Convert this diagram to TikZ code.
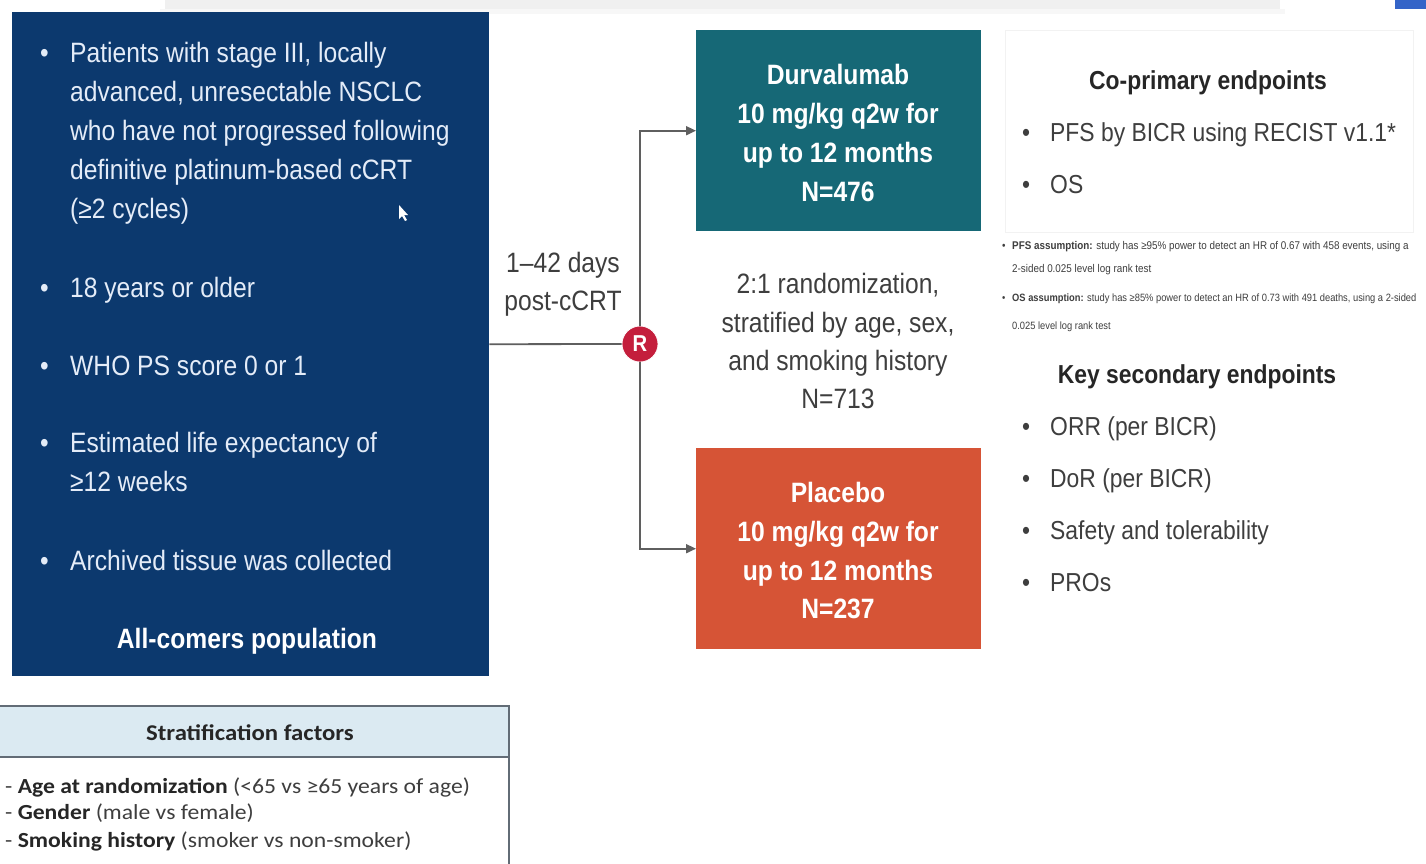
\documentclass[tikz,border=0pt]{standalone}
\usepackage{fontspec}
\setmainfont{Liberation Sans}[FakeStretch=0.88]
\newfontfamily\calfont{Carlito}[FakeStretch=1.1]
\usetikzlibrary{arrows.meta}
\definecolor{navy}{RGB}{12,57,110}
\definecolor{tealbox}{RGB}{22,104,118}
\definecolor{orangebox}{RGB}{214,84,54}
\definecolor{rred}{RGB}{196,30,60}
\definecolor{navytext}{RGB}{228,236,248}
\definecolor{bodytext}{RGB}{62,62,62}
\definecolor{titletext}{RGB}{38,38,38}
\definecolor{linegray}{RGB}{95,95,95}
\definecolor{hdrblue}{RGB}{219,234,242}
\definecolor{tblborder}{RGB}{98,108,118}
\definecolor{topblue}{RGB}{52,100,200}
\begin{document}
\begin{tikzpicture}[x=1pt,y=-1pt,
  lf/.style={inner sep=0, anchor=base west, font=\fontsize{28}{39}\selectfont},
  wl/.style={lf, text=navytext},
  cl/.style={inner sep=0, anchor=base, font=\fontsize{28}{39}\selectfont, text=bodytext},
  bl/.style={inner sep=0, anchor=base, font=\fontsize{28}{39}\selectfont\bfseries, text=white},
  rl/.style={inner sep=0, anchor=base west, font=\fontsize{26}{36}\selectfont, text=bodytext},
  rt/.style={inner sep=0, anchor=base, font=\fontsize{26}{36}\selectfont\bfseries, text=titletext},
  tl/.style={inner sep=0, anchor=base west, font=\fontsize{11.2}{12}\selectfont, text=bodytext},
  tls/.style={tl, font=\fontsize{10.6}{12}\selectfont},
  sl/.style={inner sep=0, anchor=base west, font=\calfont\fontsize{21.5}{24}\selectfont, text=bodytext},
  armbox/.style={inner sep=0, anchor=north west, minimum width=285, minimum height=201},
  conn/.style={draw=linegray, line width=1.8pt},
  arr/.style={conn, -{Triangle[length=10pt,width=9pt]}}
]
\useasboundingbox (0,0) rectangle (1426,863);
\fill[white] (0,0) rectangle (1426,863);
% top remnants
\fill[gray!12] (165,0) rectangle (1280,9);
\fill[gray!6] (160,9) rectangle (1285,14);
\fill[topblue] (1395,0) rectangle (1426,9);

% eligibility box
\node[fill=navy, inner sep=0, anchor=north west, minimum width=477, minimum height=664] (elig) at (12,12) {};
\node[wl] (b1) at (40,62) {•};
\node[wl] (e1) at (70,62) {Patients with stage III, locally};
\node[wl] (e2) at (70,101) {advanced, unresectable NSCLC};
\node[wl] (e3) at (70,140) {who have not progressed following};
\node[wl] (e4) at (70,179) {definitive platinum-based cCRT};
\node[wl] (e5) at (70,218) {(≥2 cycles)};
\node[wl] (b2) at (40,297) {•};
\node[wl] (e6) at (70,297) {18 years or older};
\node[wl] (b3) at (40,375) {•};
\node[wl] (e7) at (70,375) {WHO PS score 0 or 1};
\node[wl] (b4) at (40,452) {•};
\node[wl] (e8) at (70,452) {Estimated life expectancy of};
\node[wl] (e9) at (70,491) {≥12 weeks};
\node[wl] (b5) at (40,570) {•};
\node[wl] (e10) at (70,570) {Archived tissue was collected};
\node[bl] (allc) at (247,648) {All-comers population};
% cursor
\fill[white] (399,205) -- (399,219) -- (402,216) -- (405,221) -- (407,220) -- (404,215) -- (408,215) -- cycle;

% arms
\node[armbox, fill=tealbox] (durva) at (696,30) {};
\node[bl] (d1) at (838,84) {Durvalumab};
\node[bl] (d2) at (838,123) {10 mg/kg q2w for};
\node[bl] (d3) at (838,162) {up to 12 months};
\node[bl] (d4) at (838,201) {N=476};

\node[armbox, fill=orangebox] (plac) at (696,448) {};
\node[bl] (p1) at (838,502) {Placebo};
\node[bl] (p2) at (838,541) {10 mg/kg q2w for};
\node[bl] (p3) at (838,580) {up to 12 months};
\node[bl] (p4) at (838,618) {N=237};

% randomisation
\node[circle, fill=rred, draw=white, line width=0.8pt, minimum size=36, inner sep=0,
      font=\fontsize{23}{23}\selectfont\bfseries, text=white] (R) at (640,344) {R};
\draw[conn] (elig.east) -- (R.west);
\draw[arr] (R.north) |- (durva.west);
\draw[arr] (R.south) |- (plac.west);

\node[cl] (t1) at (563,272) {1–42 days};
\node[cl] (t2) at (563,310) {post-cCRT};

\node[cl] (r1) at (838,293) {2:1 randomization,};
\node[cl] (r2) at (838,332) {stratified by age, sex,};
\node[cl] (r3) at (838,370) {and smoking history};
\node[cl] (r4) at (838,408) {N=713};

% endpoints
\node[draw=gray!10, line width=1pt, fill=white, inner sep=0, anchor=north west,
      minimum width=408, minimum height=202] (cop) at (1005,30) {};
\node[rt] (cpt) at (1208,89) {Co-primary endpoints};
\node[rl] (cb1) at (1022,141) {•};
\node[rl] (c1) at (1050,141) {PFS by BICR using RECIST v1.1*};
\node[rl] (cb2) at (1022,193) {•};
\node[rl] (c2) at (1050,193) {OS};

\node[tl] (ab1) at (1002,249) {•};
\node[tl] (a1) at (1012,249) {\bfseries PFS assumption:\mdseries{} study has ≥95\% power to detect an HR of 0.67 with 458 events, using a};
\node[tl] (a2) at (1012,272) {2-sided 0.025 level log rank test};
\node[tls] (ab2) at (1002,301) {•};
\node[tls] (a3) at (1012,301) {\bfseries OS assumption:\mdseries{} study has ≥85\% power to detect an HR of 0.73 with 491 deaths, using a 2-sided};
\node[tls] (a4) at (1012,329) {0.025 level log rank test};

\node[rt] (kst) at (1197,383) {Key secondary endpoints};
\node[rl] (kb1) at (1022,435) {•};
\node[rl] (k1) at (1050,435) {ORR (per BICR)};
\node[rl] (kb2) at (1022,487) {•};
\node[rl] (k2) at (1050,487) {DoR (per BICR)};
\node[rl] (kb3) at (1022,539) {•};
\node[rl] (k3) at (1050,539) {Safety and tolerability};
\node[rl] (kb4) at (1022,591) {•};
\node[rl] (k4) at (1050,591) {PROs};

% stratification table
\draw[draw=tblborder, line width=1.8pt, fill=hdrblue] (-3,706) rectangle (509,757);
\draw[draw=tblborder, line width=1.8pt, fill=white] (-3,757) rectangle (509,880);
\node[inner sep=0, anchor=base, font=\calfont\fontsize{22.5}{24}\selectfont\bfseries, text=titletext] (sft) at (250,740) {Stratification factors};
\node[sl] (s1) at (5,793) {- \textbf{\color{titletext}Age at randomization} (<65 vs ≥65 years of age)};
\node[sl] (s2) at (5,819) {- \textbf{\color{titletext}Gender} (male vs female)};
\node[sl] (s3) at (5,847) {- \textbf{\color{titletext}Smoking history} (smoker vs non-smoker)};
\end{tikzpicture}
\end{document}
